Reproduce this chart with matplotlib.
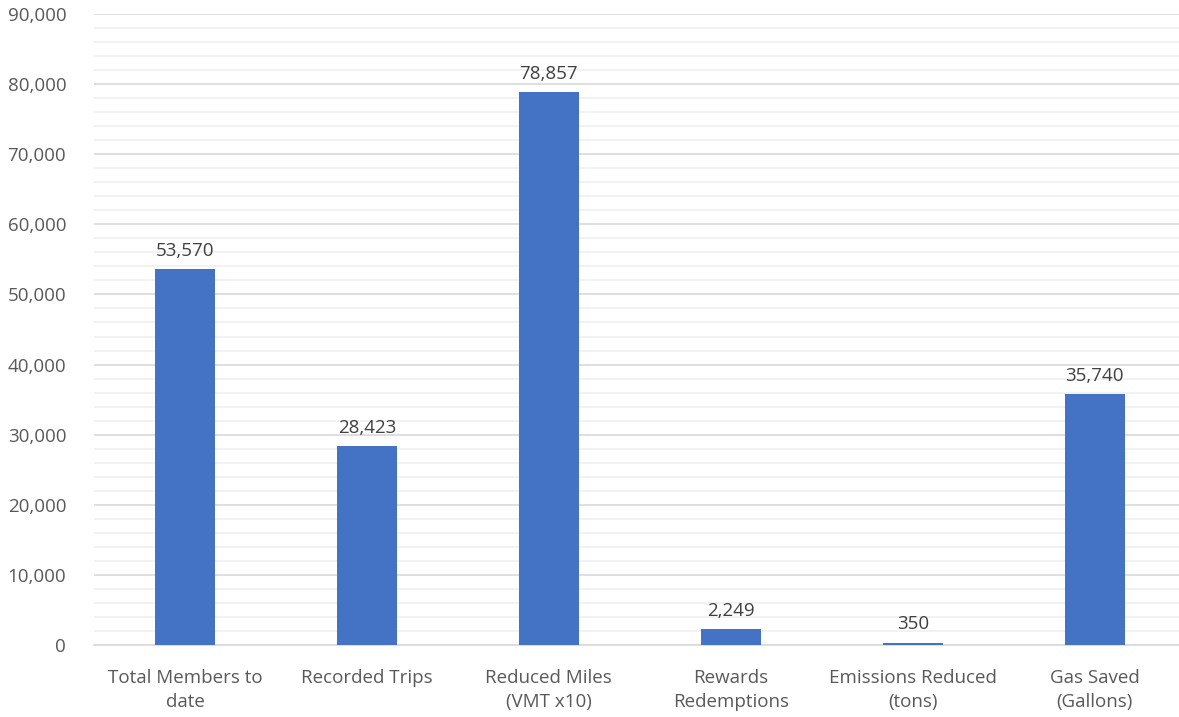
import matplotlib.pyplot as plt
from matplotlib.ticker import MultipleLocator, FuncFormatter

categories = ["Total Members to\ndate", "Recorded Trips", "Reduced Miles\n(VMT x10)",
              "Rewards\nRedemptions", "Emissions Reduced\n(tons)", "Gas Saved\n(Gallons)"]
values = [53570, 28423, 78857, 2249, 350, 35740]

plt.rcParams['font.family'] = ['Open Sans', 'DejaVu Sans']

fig = plt.figure(figsize=(11.79, 7.17), dpi=100)
ax = fig.add_axes([0.0797, 0.1004, 0.926, 0.8801])

x = range(len(categories))
bars = ax.bar(x, values, width=0.33, color='#4472C4', zorder=3)

for xi, v in zip(x, values):
    ax.text(xi, v + 1300, f"{v:,}", ha='center', va='bottom', fontsize=13.5, color='#404040')

ax.set_xlim(-0.5, len(categories) - 0.5)
ax.set_ylim(0, 90000)
ax.yaxis.set_major_locator(MultipleLocator(10000))
ax.yaxis.set_minor_locator(MultipleLocator(2000))
ax.yaxis.set_major_formatter(FuncFormatter(lambda v, p: f"{int(v):,}"))
ax.grid(axis='y', which='major', color='#D9D9D9', linewidth=1.2, zorder=0)
ax.grid(axis='y', which='minor', color='#F0F0F0', linewidth=1.2, zorder=0)

ax.set_xticks(list(x))
ax.set_xticklabels(categories, fontsize=13.5, color='#595959', linespacing=1.45)
ax.tick_params(axis='y', which='both', length=0, labelsize=13.5, labelcolor='#595959', pad=20)
ax.tick_params(axis='x', length=0, pad=17)
for s in ['top', 'right', 'left']:
    ax.spines[s].set_visible(False)
ax.spines['bottom'].set_color('#D9D9D9')
ax.spines['bottom'].set_linewidth(1.2)

fig.savefig('out.png', dpi=100)
